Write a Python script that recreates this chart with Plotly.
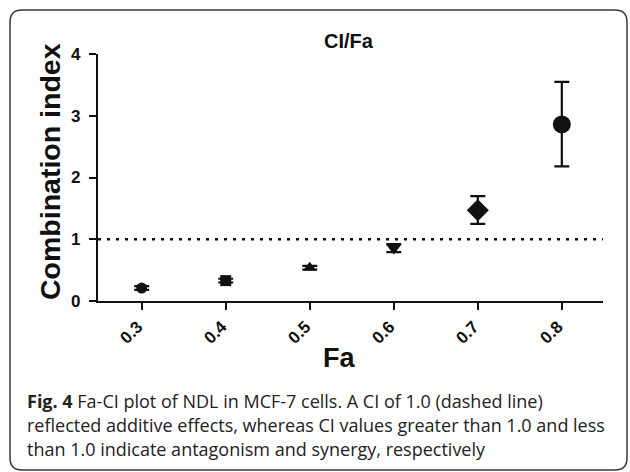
import plotly.graph_objects as go

# ---- data ----
fa = [0.3, 0.4, 0.5, 0.6, 0.7, 0.8]
ci = [0.21, 0.33, 0.54, 0.86, 1.47, 2.86]
ci_upper = [0.24, 0.36, 0.57, 0.92, 1.70, 3.55]
ci_lower = [0.18, 0.30, 0.51, 0.79, 1.25, 2.18]
x_ticks = [0.3, 0.4, 0.5, 0.6, 0.7, 0.8]
x_ticktext = ["0.3", "0.4", "0.5", "0.6", "0.7", "0.8"]
y_ticks = [0, 1, 2, 3, 4]
ref_ci = 1.0

title_text = "CI/Fa"
x_title = "Fa"
y_title = "Combination index"
caption_lines = [
    "<b>Fig. 4</b> Fa-CI plot of NDL in MCF-7 cells. A CI of 1.0 (dashed line)",
    "reflected additive effects, whereas CI values greater than 1.0 and less",
    "than 1.0 indicate antagonism and synergy, respectively",
]

# ---- layout geometry (pixels) ----
W, H = 630, 472
L, R, T, B = 98, 27, 54, 171
PW, PH = W - L - R, H - T - B


def px(x):
    return (x - L) / PW


def py(y):
    return (H - B - y) / PH


err_plus = [u - c for u, c in zip(ci_upper, ci)]
err_minus = [c - l for c, l in zip(ci, ci_lower)]

symbols = ["circle", "square", "triangle-up", "triangle-down", "diamond", "circle"]
sizes = [11, 11, 12, 13, 17, 18]

fig = go.Figure()
fig.add_trace(go.Scatter(
    x=fa, y=ci, mode="markers",
    marker=dict(symbol=symbols, size=sizes, color="#111111", opacity=1,
                line=dict(width=0)),
    error_y=dict(type="data", symmetric=False, array=err_plus,
                 arrayminus=err_minus, color="#111111", thickness=2.2,
                 width=7.5),
    showlegend=False, cliponaxis=False, hoverinfo="skip",
))

bold = dict(family="Liberation Sans, Arial, sans-serif", color="#111111",
            weight="bold")

fig.update_layout(
    width=W, height=H,
    margin=dict(l=L, r=R, t=T, b=B, pad=0),
    paper_bgcolor="white", plot_bgcolor="white",
    xaxis=dict(range=[0.248, 0.849], tickvals=x_ticks, ticktext=x_ticktext,
               tickangle=-45, showgrid=False, zeroline=False,
               showline=True, linecolor="#111111", linewidth=2.2,
               ticks="outside", ticklen=7, tickwidth=2.2, tickcolor="#111111",
               ticklabelshift=-4,
               tickfont=dict(size=17, **bold)),
    yaxis=dict(range=[0, 4], tickvals=y_ticks, showgrid=False,
               zeroline=False, showline=True, linecolor="#111111",
               linewidth=2.2, ticks="outside", ticklen=7, tickwidth=2.2,
               tickcolor="#111111", ticklabelstandoff=5,
               tickfont=dict(size=17, **bold)),
)

# reference line at CI = 1
fig.add_shape(type="line", xref="paper", yref="y", x0=0, x1=1,
              y0=ref_ci, y1=ref_ci,
              line=dict(color="#111111", width=2.5, dash="3px,6px"))

# rounded frame
x0, x1, y0, y1, r = px(10), px(627), py(10), py(470), 12
rx, ry = r / PW, r / PH
path = (f"M{x0 + rx},{y0} L{x1 - rx},{y0} Q{x1},{y0} {x1},{y0 - ry} "
        f"L{x1},{y1 + ry} Q{x1},{y1} {x1 - rx},{y1} "
        f"L{x0 + rx},{y1} Q{x0},{y1} {x0},{y1 + ry} "
        f"L{x0},{y0 - ry} Q{x0},{y0} {x0 + rx},{y0} Z")
fig.add_shape(type="path", xref="paper", yref="paper", path=path,
              line=dict(color="#3a3a3a", width=1.5), layer="below")

# titles
fig.add_annotation(text=title_text, xref="paper", yref="paper",
                   x=px(349), y=py(41), showarrow=False,
                   xanchor="center", yanchor="middle",
                   font=dict(size=20, **bold))
fig.add_annotation(text=x_title, xref="paper", yref="paper",
                   x=px(338.5), y=py(358), showarrow=False,
                   xanchor="center", yanchor="middle",
                   font=dict(size=27, **bold))
fig.add_annotation(text=y_title, xref="paper", yref="paper",
                   x=px(50), y=py(172), showarrow=False, textangle=-90,
                   xanchor="center", yanchor="middle",
                   font=dict(size=28.5, **bold))

# caption
for i, line in enumerate(caption_lines):
    fig.add_annotation(text=line, xref="paper", yref="paper",
                       x=px(25), y=py(401 + 24 * i), showarrow=False,
                       xanchor="left", yanchor="middle", align="left",
                       font=dict(family="Open Sans, sans-serif", size=18,
                                 color="#222222"))

fig.write_html("out.html", config={"displayModeBar": False},
               post_script="document.body.style.margin='0';")
